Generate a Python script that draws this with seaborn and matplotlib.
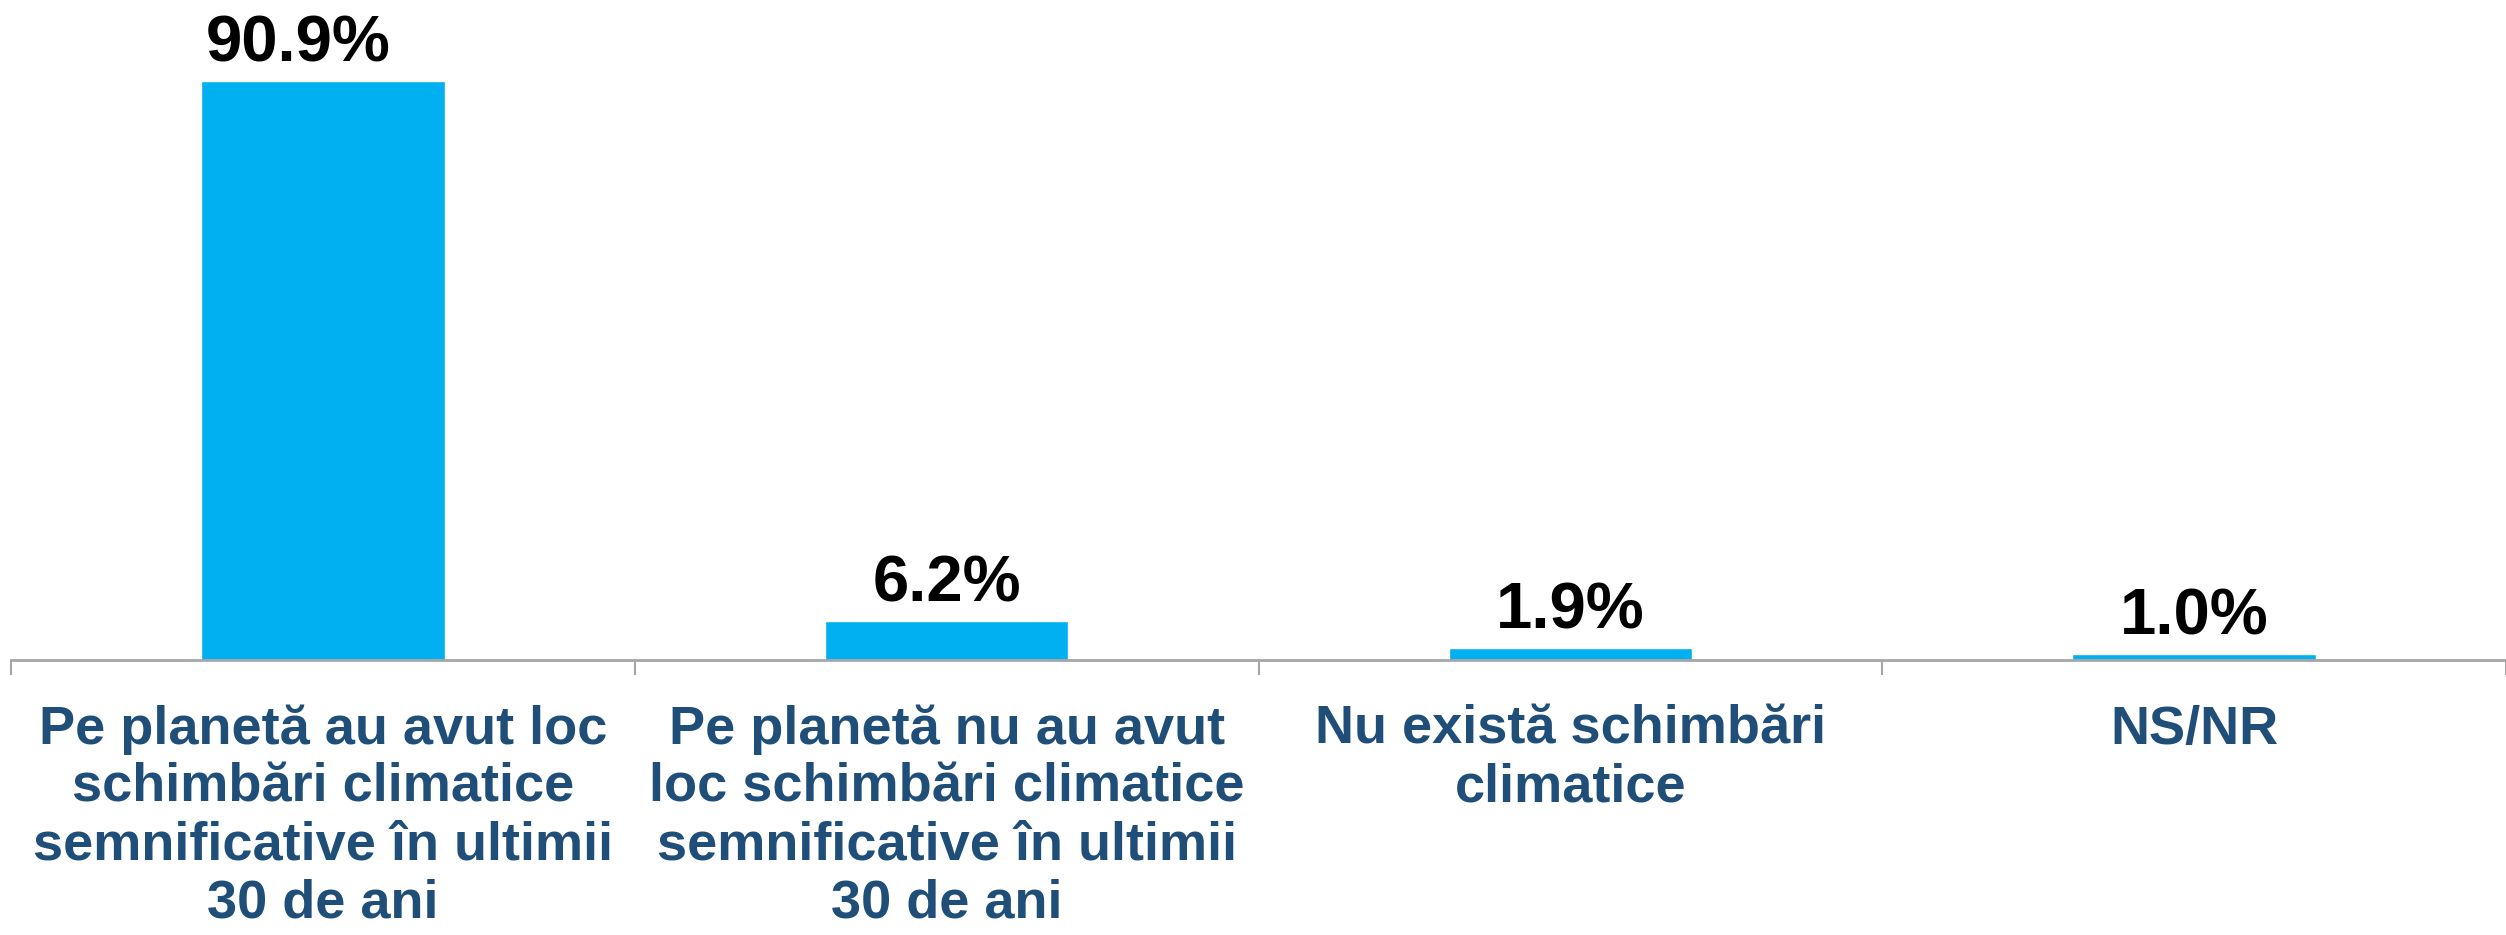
import matplotlib
matplotlib.use("Agg")
import matplotlib.pyplot as plt
import seaborn as sns
import pandas as pd

# Data
categories = [
    "Pe planetă au avut loc\nschimbări climatice\nsemnificative în ultimii\n30 de ani",
    "Pe planetă nu au avut\nloc schimbări climatice\nsemnificative în ultimii\n30 de ani",
    "Nu există schimbări\nclimatice",
    "NS/NR",
]
values = [90.9, 6.2, 1.9, 1.0]
value_labels = ["90.9%", "6.2%", "1.9%", "1.0%"]

df = pd.DataFrame({"cat": categories, "val": values})

sns.set_style("white")
plt.rcParams['font.family'] = ['Liberation Sans', 'DejaVu Sans']

fig = plt.figure(figsize=(25.06, 9.35), dpi=100)
ax = fig.add_axes([0.0044, 0.294, 0.9956, 0.706])

sns.barplot(x="cat", y="val", data=df, color="#00B0F0", saturation=1, width=0.39, ax=ax)

# Value labels above bars (the first one sits a little left of centre)
label_dx = [-18, 0, 0, 0]
for i, (v, lab) in enumerate(zip(values, value_labels)):
    ax.annotate(lab, (i, v), xytext=(label_dx[i], 14), textcoords="offset points",
                ha="center", va="baseline", fontsize=47, fontweight="bold", color="black")

ax.set_ylim(0, 103.6)
ax.set_xlim(-0.5, 3.5)
ax.set_xlabel("")
ax.set_ylabel("")
ax.set_yticks([])

for s in ["top", "right", "left"]:
    ax.spines[s].set_visible(False)
ax.spines["bottom"].set_color("#A6A6A6")
ax.spines["bottom"].set_linewidth(2)

# Category boundary ticks
ax.set_xticks([-0.5, 0.5, 1.5, 2.5, 3.5], minor=True)
ax.tick_params(axis="x", which="minor", length=11, width=1.5, color="#A6A6A6", direction="out", bottom=True)
ax.tick_params(axis="x", which="major", length=0, pad=32)
ax.set_xticklabels(categories, fontsize=39, fontweight="bold", color="#1F4E79",
                   linespacing=1.2)

fig.savefig("out.png", dpi=100)
